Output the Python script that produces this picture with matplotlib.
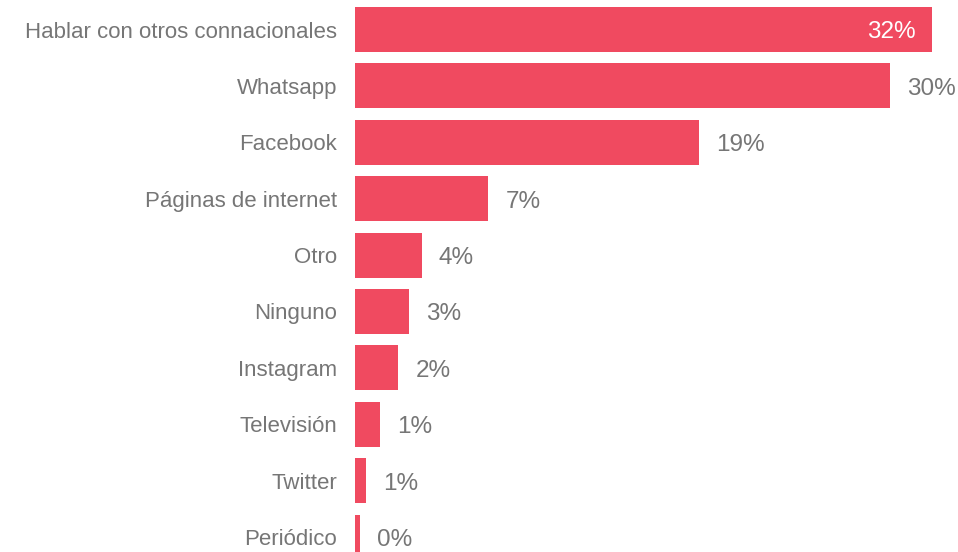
import matplotlib
matplotlib.use("Agg")
import matplotlib.pyplot as plt

plt.rcParams['font.family'] = ['Liberation Sans', 'DejaVu Sans']

categories = ["Hablar con otros connacionales", "Whatsapp", "Facebook",
              "Páginas de internet", "Otro", "Ninguno", "Instagram",
              "Televisión", "Twitter", "Periódico"]
values = [32.0, 29.7, 19.1, 7.4, 3.7, 3.0, 2.4, 1.4, 0.6, 0.25]
value_labels = ["32%", "30%", "19%", "7%", "4%", "3%", "2%", "1%", "1%", "0%"]

BAR = "#F04A60"
GRAY = "#767676"

W, H = 958, 552
PX_PER_PCT = 18.03
PITCH = 56.4
TOP = 29.5  # pixel centre of first bar

fig = plt.figure(figsize=(W / 100, H / 100), dpi=100)
ax = fig.add_axes([355 / W, 0, 1 - 355 / W, 1])

ypos = list(range(len(categories)))
ax.barh(ypos, values, height=0.80, color=BAR)

ax.set_xlim(0, (W - 355) / PX_PER_PCT)
ax.set_ylim((H - TOP) / PITCH, -TOP / PITCH)

ax.set_yticks(ypos)
ax.set_yticklabels(categories, fontsize=16, color=GRAY)
ax.tick_params(axis="y", length=0, pad=13)
ax.set_xticks([])
for s in ax.spines.values():
    s.set_visible(False)

for y, v, lab in zip(ypos, values, value_labels):
    if v > 31:
        ax.annotate(lab, (v, y), xytext=(-16, -3), textcoords="offset pixels",
                    ha="right", va="center", fontsize=17.5, color="white")
    else:
        ax.annotate(lab, (v, y), xytext=(17, -3), textcoords="offset pixels",
                    ha="left", va="center", fontsize=17.5, color=GRAY)

fig.savefig("out.png", dpi=100)
